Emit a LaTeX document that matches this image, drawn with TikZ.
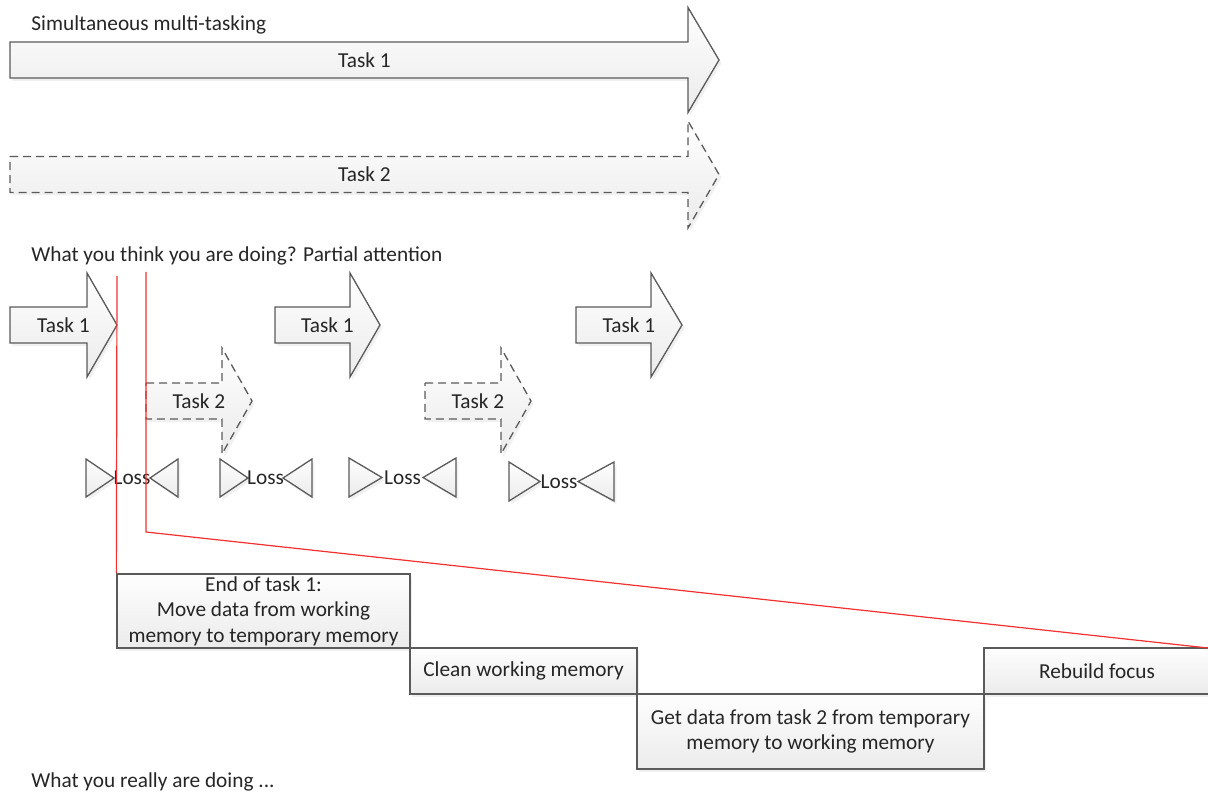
\documentclass[tikz,border=0pt]{standalone}
\usepackage{fontspec}
\setmainfont{Carlito}
\usetikzlibrary{shadows}

\definecolor{edge}{HTML}{5A5A5A}
\definecolor{ink}{HTML}{262626}
\definecolor{shadetop}{HTML}{FEFEFE}
\definecolor{shadebot}{HTML}{EBEBEB}
\definecolor{focusline}{HTML}{F5302E}

\tikzset{
  solidform/.style={draw=edge, line width=0.65pt, top color=shadetop, bottom color=shadebot,
    drop shadow={shadow xshift=1.2pt, shadow yshift=-1.5pt, opacity=0.12}},
  dashform/.style={solidform, dash pattern=on 4pt off 2.5pt},
  txt/.style={font=\fontsize{10.65}{12.7}\selectfont, text=ink, inner sep=0pt},
  stepbox/.style={solidform, txt, align=center, rectangle},
  focus/.style={draw=focusline, line width=0.6pt},
}

% block arrow: style, left x, head base x, tip x, centre y, half body, half head
\newcommand{\blockarrow}[7]{%
  \path[#1] (#2,{#5-#6}) -- (#3,{#5-#6}) -- (#3,{#5-#7}) -- (#4,#5)
    -- (#3,{#5+#7}) -- (#3,{#5+#6}) -- (#2,{#5+#6}) -- cycle;}

% pair of facing triangles with a label between: name, left base, left tip, right tip, right base, top, bottom
\newcommand{\losspair}[7]{%
  \path[solidform] (#2,#6) -- (#3,{(#6+#7)/2}) -- (#2,#7) -- cycle;
  \path[solidform] (#5,#6) -- (#4,{(#6+#7)/2}) -- (#5,#7) -- cycle;
  \node[txt] (#1) at ({(#3+#4)/2},{(#6+#7)/2}) {Loss};}

\begin{document}
\begin{tikzpicture}[x=0.5pt, y=-0.5pt]
\useasboundingbox (0,0) rectangle (1208,796);

% simultaneous view
\node[txt, anchor=west] (head1) at (31,25) {Simultaneous multi-tasking};
\blockarrow{solidform}{10}{688}{719}{60}{18}{52.5}
\node[txt] (big1) at (364.5,60) {Task 1};
\blockarrow{dashform}{10}{688}{719}{174.5}{18}{53.5}
\node[txt] (big2) at (364.5,174.5) {Task 2};

% interleaved view
\node[txt, anchor=west] (head2) at (31,256) {What you think you are doing? Partial attention};

\blockarrow{solidform}{10}{87}{117}{325}{18}{52}
\node[txt] (a1) at (63.5,325) {Task 1};
\blockarrow{solidform}{275}{350}{380}{325}{18}{52}
\node[txt] (a2) at (327.5,325) {Task 1};
\blockarrow{solidform}{576}{651}{682}{325}{18}{52}
\node[txt] (a3) at (629,325) {Task 1};

\blockarrow{dashform}{146}{222}{252}{401}{18}{53}
\node[txt] (b1) at (199,401) {Task 2};
\blockarrow{dashform}{425}{501}{531}{401}{18}{53}
\node[txt] (b2) at (478,401) {Task 2};

\losspair{loss1}{86}{114}{150}{178}{459}{497}
\losspair{loss2}{220}{248}{283}{312}{459}{497}
\losspair{loss3}{349}{382}{423}{456}{458}{497}
\losspair{loss4}{509}{540}{578}{614}{462}{501}

% switching steps
\node[stepbox, minimum width=146.5pt, minimum height=37pt] (s1) at (263.5,611)
  {End of task 1:\\Move data from working\\memory to temporary memory};
\node[stepbox, minimum width=113.5pt, minimum height=23pt] (s2) at (523.5,671)
  {Clean working memory};
\node[stepbox, minimum width=173.5pt, minimum height=37.5pt] (s3) at (810.5,731.5)
  {Get data from task 2 from temporary\\memory to working memory};
\node[stepbox, minimum width=113pt, minimum height=23pt] (s4) at (1097,671)
  {Rebuild focus};

\node[txt, anchor=west] (head3) at (31,782) {What you really are doing ...};

% markers tying the switch to its cost
\coordinate (m1) at (117,276);
\coordinate (m2) at (146,272);
\coordinate (m2bend) at (146,532);
\coordinate (m2end) at (1208,648);
\draw[focus] (m1) -- (s1.north west);
\draw[focus] (m2) -- (m2bend) -- (m2end);
\end{tikzpicture}
\end{document}
